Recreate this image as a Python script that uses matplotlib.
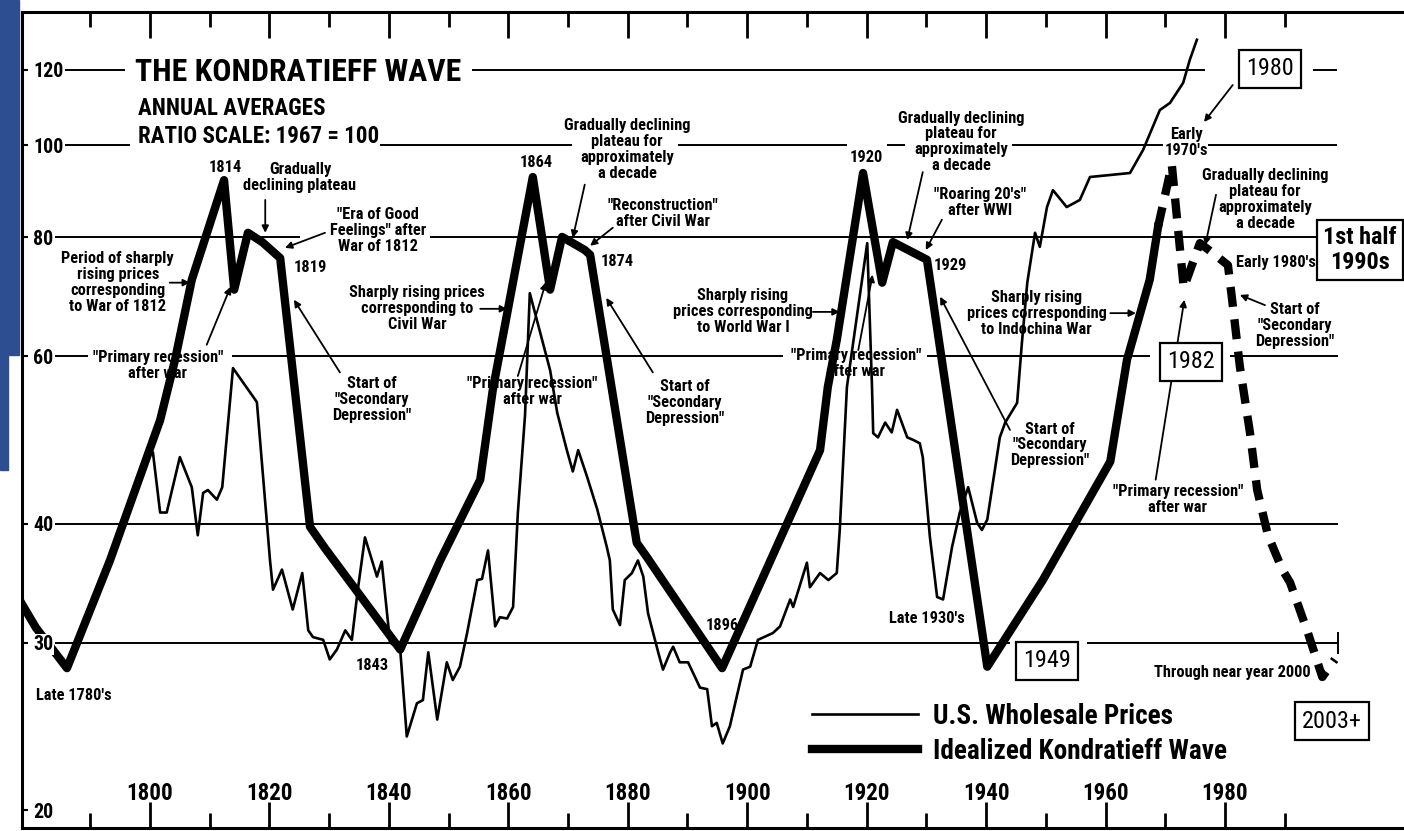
import numpy as np
import matplotlib
matplotlib.use('Agg')
import matplotlib.pyplot as plt
from matplotlib.patches import Rectangle
from matplotlib.ticker import NullLocator
from matplotlib.font_manager import FontProperties, fontManager
from matplotlib.textpath import TextToPath

# the printed chart uses a condensed grotesque; take a narrow face if one is installed
installed = {f.name for f in fontManager.ttflist}
narrow = ['Liberation Sans Narrow', 'Roboto Condensed', 'Arial Narrow',
          'Noto Sans Condensed', 'DejaVu Sans Condensed', 'Open Sans Condensed']
family = next((n for n in narrow if n in installed), 'Liberation Sans')
plt.rcParams['font.family'] = [family, 'Liberation Sans', 'DejaVu Sans']
plt.rcParams['font.weight'] = 'bold'

# sizes below are tuned for Liberation Sans Bold; rescale so text widths stay the same
_t2p = TextToPath()
_s = 'Gradually declining plateau 1980 WAVE'
_w0 = _t2p.get_text_width_height_descent(_s, FontProperties(family='Liberation Sans', weight='bold', size=10), False)[0]
_w1 = _t2p.get_text_width_height_descent(_s, FontProperties(family=family, weight='bold', size=10), False)[0]
K = _w0 / _w1

# U.S. wholesale prices, annual averages, ratio scale 1967 = 100
wpi_years = [1800.5, 1801.7, 1802.8, 1805.0, 1807.0, 1808.0, 1808.9, 1809.7, 1811.2, 1812.1,
             1813.9, 1817.9, 1820.1, 1820.6, 1822.1, 1823.9, 1825.5, 1826.5, 1827.3, 1829.0,
             1830.1, 1831.3, 1832.7, 1833.8, 1834.8, 1836.0, 1838.0, 1838.8, 1840.2, 1841.9,
             1843.0, 1844.7, 1845.7, 1846.6, 1848.1, 1849.7, 1850.7, 1851.9, 1853.1, 1854.8,
             1855.6, 1856.6, 1857.8, 1858.6, 1859.8, 1860.8, 1861.6, 1862.8, 1863.6, 1867.0,
             1868.2, 1869.8, 1870.8, 1871.7, 1873.2, 1874.9, 1876.5, 1877.0, 1877.5, 1878.7,
             1879.5, 1880.7, 1881.7, 1882.6, 1883.4, 1885.1, 1885.9, 1887.1, 1887.6, 1888.7,
             1890.1, 1892.1, 1893.3, 1894.1, 1894.9, 1895.9, 1897.1, 1899.3, 1900.5, 1901.8,
             1904.3, 1905.5, 1907.2, 1907.7, 1910.0, 1910.5, 1912.2, 1913.6, 1915.0, 1915.5,
             1916.7, 1920.1, 1920.9, 1921.1, 1921.9, 1923.1, 1924.2, 1925.1, 1926.8, 1927.8,
             1928.9, 1929.4, 1930.6, 1931.8, 1932.8, 1934.3, 1935.6, 1937.0, 1938.5, 1939.3,
             1940.2, 1942.3, 1943.2, 1945.2, 1946.0, 1946.9, 1948.2, 1949.0, 1950.2, 1951.2,
             1953.5, 1955.7, 1957.4, 1964.1, 1966.3, 1969.1, 1970.8, 1973.0, 1974.1, 1975.3]
wpi_values = [47.5, 41.1, 41.1, 47.0, 43.7, 38.9, 43.1, 43.4, 42.4, 43.7,
              58.3, 53.7, 36.6, 34.1, 35.8, 32.5, 35.5, 30.9, 30.4, 30.2,
              28.8, 29.5, 30.9, 30.2, 34.1, 38.7, 35.2, 36.5, 30.0, 29.5,
              23.9, 25.9, 26.1, 29.3, 24.9, 28.6, 27.4, 28.3, 30.7, 34.9,
              35.0, 37.5, 31.2, 31.9, 31.8, 32.7, 41.1, 52.0, 69.9, 58.0,
              52.3, 47.8, 45.4, 47.8, 44.8, 41.4, 37.8, 36.6, 32.5, 31.3,
              34.9, 35.5, 36.6, 35.2, 32.2, 29.3, 28.1, 29.3, 29.7, 28.6,
              28.6, 26.9, 26.8, 24.5, 24.7, 23.5, 24.5, 28.1, 28.3, 30.2,
              30.7, 31.2, 33.3, 32.7, 36.4, 34.3, 35.5, 34.9, 35.5, 39.4,
              55.7, 78.9, 55.7, 49.8, 49.3, 51.1, 49.9, 52.7, 49.3, 49.0,
              48.6, 47.0, 38.7, 33.5, 33.3, 37.8, 41.1, 43.7, 40.1, 39.4,
              40.4, 49.3, 51.1, 53.6, 62.0, 71.7, 80.9, 78.2, 86.1, 89.7,
              86.1, 87.6, 92.6, 93.5, 98.9, 108.9, 110.8, 116.3, 122.9, 129.1]

# idealized Kondratieff wave (solid) and its projection (dashed)
wave_years = [1778.6, 1780.9, 1786.1, 1793.3, 1801.7, 1804.2, 1807.0, 1812.4, 1814.1, 1816.4,
              1818.8, 1821.8, 1826.8, 1829.3, 1841.9, 1848.6, 1855.3, 1857.4, 1864.1,
              1867.0, 1869.0, 1872.8, 1873.7, 1881.5, 1883.2, 1895.8, 1912.2, 1913.5, 1915.0,
              1919.4, 1922.6, 1924.4, 1930.1, 1940.2, 1949.5, 1960.8, 1963.6, 1967.4, 1968.8]
wave_values = [32.9, 31.1, 28.2, 36.6, 51.4, 59.5, 72.2, 91.9, 70.5, 80.9,
               79.1, 76.1, 39.7, 37.7, 29.5, 36.6, 44.5, 55.3, 92.6,
               70.5, 80.1, 77.6, 76.7, 38.2, 36.9, 28.2, 47.8, 55.7, 62.4,
               93.5, 71.7, 79.1, 75.8, 28.3, 34.9, 46.5, 59.5, 72.2, 82.1]
proj_years = [1968.8, 1971.1, 1973.1, 1975.8, 1978.0, 1980.5, 1981.2, 1982.5, 1984.2, 1985.4,
              1987.2, 1989.6, 1990.9, 1993.9, 1996.3, 1998.4]
proj_values = [82.1, 95.4, 70.8, 78.9, 77.0, 74.8, 68.8, 58.5, 49.8, 43.4,
               38.9, 35.8, 34.7, 30.7, 27.6, 28.8]

x_major = np.arange(1800, 1981, 20)
x_minor = np.arange(1790, 1991, 20)
y_ticks = [20, 30, 40, 60, 80, 100, 120]

# horizontal reference rules, broken where the printed text sits
rules = {
    120: [(1785.8, 1795.8), (1853.9, 1976.7), (1994.7, 1998.8)],
    100: [(1785.8, 1796.7), (1838.5, 1870.7), (1888.4, 1916.7), (1923.4, 1926.4),
          (1944.3, 1969.6), (1977.2, 1998.8)],
    80: [(1784.1, 1825.1), (1846.9, 1995.4)],
    60: [(1784.1, 1789.6), (1813.7, 1906.0), (1930.1, 1967.4), (1980.8, 1998.9)],
    40: [(1784.1, 1998.9)],
    30: [(1784.1, 1944.0), (1956.9, 1998.9)],
}

fig = plt.figure(figsize=(14.04, 8.31), dpi=100)
fig.patch.set_facecolor('white')
ax = fig.add_axes([22 / 1404, 3 / 831, 1382 / 1404, 815.5 / 831])
ax.set_yscale('log')
ax.set_xlim(1778.57, 2009.98)
ax.set_ylim(19.15, 137.9)

for side in ['left', 'top', 'bottom']:
    ax.spines[side].set_linewidth(2.2)
ax.spines['right'].set_visible(False)

ax.xaxis.set_ticks_position('both')
ax.set_xticks(x_major)
ax.set_xticks(x_minor, minor=True)
ax.set_xticklabels([str(y) for y in x_major])
ax.tick_params(axis='x', which='major', direction='in', length=18.5, width=2,
               labelbottom=True, labeltop=False, pad=-33, labelsize=14 * K)
ax.tick_params(axis='x', which='minor', direction='in', length=11, width=2)

ax.set_yticks(y_ticks)
ax.yaxis.set_minor_locator(NullLocator())
ax.set_yticklabels([str(v) for v in y_ticks])
ax.tick_params(axis='y', direction='in', length=4.5, width=1.5, pad=-8, labelsize=12.2 * K)
ax.yaxis.set_zorder(4)
for lab in ax.get_yticklabels():
    lab.set_horizontalalignment('left')
    lab.set_bbox(dict(fc='white', ec='none', pad=0.5))

for v, segs in rules.items():
    for a, b in segs:
        ax.hlines(v, a, b, color='k', lw=1.4, zorder=1)
ax.vlines(1998.9, 29.2, 30.8, color='k', lw=1.4, zorder=1)

wpi_line, = ax.plot(wpi_years, wpi_values, color='k', lw=1.9, zorder=3,
                    label='U.S. Wholesale Prices')
wave_line, = ax.plot(wave_years, wave_values, color='k', lw=6, zorder=3,
                     solid_joinstyle='round', label='Idealized Kondratieff Wave')
ax.plot(proj_years, proj_values, color='k', lw=6, ls=(0, (2.4, 1.5)),
        dash_capstyle='butt', zorder=3)

# titles
ax.text(1797.5, 119.4, 'THE KONDRATIEFF WAVE', fontsize=19.3 * K, va='center', ha='left')
ax.text(1798.0, 109.2, 'ANNUAL AVERAGES', fontsize=14 * K, va='center', ha='left')
ax.text(1798.0, 102.2, 'RATIO SCALE: 1967 = 100', fontsize=14 * K, va='center', ha='left')

notes = [
    ("Period of sharply\nrising prices\ncorresponding\nto War of 1812", 1794.6, 71.7),
    ("1814", 1812.6, 94.7),
    ("Gradually\ndeclining plateau", 1825.1, 92.4),
    ('"Era of Good\nFeelings" after\nWar of 1812', 1838.2, 81.3),
    ("1819", 1826.8, 74.3),
    ('"Primary recession"\nafter war', 1801.3, 58.7),
    ('Start of\n"Secondary\nDepression"', 1837.2, 54.0),
    ("Sharply rising prices\ncorresponding to\nCivil War", 1844.7, 67.3),
    ("1864", 1864.6, 95.8),
    ("Gradually declining\nplateau for\napproximately\na decade", 1879.9, 98.9),
    ('"Reconstruction"\nafter Civil War', 1885.9, 84.8),
    ("1874", 1878.2, 75.4),
    ('"Primary recession"\nafter war', 1864.0, 55.1),
    ('Start of\n"Secondary\nDepression"', 1889.6, 53.7),
    ("1896", 1895.8, 31.3),
    ("Sharply rising\nprices corresponding\nto World War I", 1899.3, 66.8),
    ("1920", 1919.9, 97.0),
    ("Gradually declining\nplateau for\napproximately\na decade", 1935.8, 100.8),
    ('"Roaring 20\'s"\nafter WWI', 1939.0, 87.0),
    ("1929", 1934.1, 74.8),
    ('"Primary recession"\nafter war', 1918.2, 58.9),
    ("Sharply rising\nprices corresponding\nto Indochina War", 1948.5, 66.6),
    ('Start of\n"Secondary\nDepression"', 1950.7, 48.4),
    ("Late 1930's", 1930.1, 31.8),
    ("Late 1780's", 1787.3, 26.4),
    ("1843", 1837.2, 28.4),
    ("Early\n1970's", 1973.5, 100.6),
    ("Gradually declining\nplateau for\napproximately\na decade", 1986.7, 87.6),
    ("Early 1980's", 1988.5, 75.2),
    ('Start of\n"Secondary\nDepression"', 1991.7, 64.7),
    ('"Primary recession"\nafter war', 1972.1, 42.4),
    ("Through near year 2000", 1981.2, 27.9),
]
for txt, x, y in notes:
    ax.text(x, y, txt, fontsize=10 * K, ha='center', va='center', linespacing=1.08, zorder=4)

arrows = [
    ((1803.3, 71.7), (1806.7, 71.7)),
    ((1819.3, 87.6), (1819.3, 80.9)),
    ((1829.3, 80.9), (1822.6, 78.0)),
    ((1809.5, 61.7), (1813.5, 71.0)),
    ((1831.8, 57.7), (1824.1, 68.8)),
    ((1855.3, 67.3), (1859.8, 67.3)),
    ((1872.8, 90.9), (1870.8, 79.9)),
    ((1877.5, 81.9), (1873.7, 78.4)),
    ((1861.6, 57.2), (1866.3, 71.8)),
    ((1884.2, 57.7), (1876.4, 69.1)),
    ((1911.0, 66.8), (1915.5, 66.8)),
    ((1929.4, 93.7), (1926.8, 79.5)),
    ((1932.6, 83.5), (1929.9, 77.6)),
    ((1918.6, 60.9), (1921.0, 73.1)),
    ((1960.8, 66.6), (1965.1, 66.6)),
    ((1944.0, 50.2), (1932.3, 69.3)),
    ((1981.3, 115.7), (1976.5, 105.8)),
    ((1978.5, 88.7), (1976.7, 78.5)),
    ((1986.7, 67.9), (1982.5, 69.6)),
    ((1968.4, 44.5), (1973.2, 68.8)),
]
for (x0, y0), (x1, y1) in arrows:
    ax.annotate('', xy=(x1, y1), xytext=(x0, y0), zorder=4,
                arrowprops=dict(arrowstyle='-|>', color='k', lw=1.3,
                                mutation_scale=10, shrinkA=0, shrinkB=0))

boxes = [
    ("1949", 1950.2, 28.7, 'normal', 0.3),
    ("1980", 1987.5, 120.3, 'normal', 0.3),
    ("1982", 1974.3, 59.2, 'normal', 0.3),
    ("2003+", 1997.9, 24.8, 'normal', 0.3),
    ("1st half\n1990s", 2002.6, 77.6, 'bold', 0.25),
]
for txt, x, y, w, pad in boxes:
    ax.text(x, y, txt, fontsize=14.7 * K, fontweight=w, ha='center', va='center',
            linespacing=1.1, zorder=5,
            bbox=dict(boxstyle='square,pad=%.2f' % pad, fc='white', ec='black', lw=1.6))

ax.legend(handles=[wpi_line, wave_line], loc='upper left',
          bbox_to_anchor=(812 / 1404, 1 - 703 / 831), bbox_transform=fig.transFigure,
          frameon=False, handlelength=4.6 / K, handletextpad=0.65 / K, labelspacing=0.33 / K,
          borderpad=0, borderaxespad=0, prop={'size': 16.6 * K, 'weight': 'bold'})

# blue scan border on the left
fig.patches.append(Rectangle((0, 1 - 355 / 831), 19 / 1404, 355 / 831,
                             transform=fig.transFigure, color='#2d4f91', zorder=10))
fig.patches.append(Rectangle((0, 1 - 470 / 831), 8 / 1404, 115 / 831,
                             transform=fig.transFigure, color='#2d4f91', zorder=10))

plt.savefig('out.png', dpi=100)
